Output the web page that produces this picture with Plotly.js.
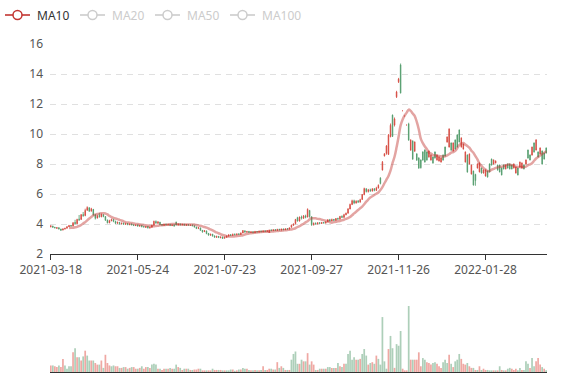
<!DOCTYPE html>
<html>
<head>
<meta charset="utf-8">
<script src="https://cdn.plot.ly/plotly-3.0.1.min.js"></script>
<style>html,body{margin:0;padding:0;background:#fff;}#chart{width:577px;height:380px;}</style>
</head>
<body>
<div id="chart"></div>
<script>
const dates = [
"2021-03-18","2021-03-19","2021-03-22","2021-03-23","2021-03-24","2021-03-25","2021-03-26","2021-03-29","2021-03-30","2021-03-31",
"2021-04-01","2021-04-02","2021-04-06","2021-04-07","2021-04-08","2021-04-09","2021-04-12","2021-04-13","2021-04-14","2021-04-15",
"2021-04-16","2021-04-19","2021-04-20","2021-04-21","2021-04-22","2021-04-23","2021-04-26","2021-04-27","2021-04-28","2021-04-29",
"2021-04-30","2021-05-06","2021-05-07","2021-05-10","2021-05-11","2021-05-12","2021-05-13","2021-05-14","2021-05-17","2021-05-18",
"2021-05-19","2021-05-20","2021-05-21","2021-05-24","2021-05-25","2021-05-26","2021-05-27","2021-05-28","2021-05-31","2021-06-01",
"2021-06-02","2021-06-03","2021-06-04","2021-06-07","2021-06-08","2021-06-09","2021-06-10","2021-06-11","2021-06-15","2021-06-16",
"2021-06-17","2021-06-18","2021-06-21","2021-06-22","2021-06-23","2021-06-24","2021-06-25","2021-06-28","2021-06-29","2021-06-30",
"2021-07-01","2021-07-02","2021-07-05","2021-07-06","2021-07-07","2021-07-08","2021-07-09","2021-07-12","2021-07-13","2021-07-14",
"2021-07-15","2021-07-16","2021-07-19","2021-07-20","2021-07-21","2021-07-22","2021-07-23","2021-07-26","2021-07-27","2021-07-28",
"2021-07-29","2021-07-30","2021-08-02","2021-08-03","2021-08-04","2021-08-05","2021-08-06","2021-08-09","2021-08-10","2021-08-11",
"2021-08-12","2021-08-13","2021-08-16","2021-08-17","2021-08-18","2021-08-19","2021-08-20","2021-08-23","2021-08-24","2021-08-25",
"2021-08-26","2021-08-27","2021-08-30","2021-08-31","2021-09-01","2021-09-02","2021-09-06","2021-09-07","2021-09-08","2021-09-09",
"2021-09-10","2021-09-13","2021-09-14","2021-09-15","2021-09-16","2021-09-17","2021-09-22","2021-09-23","2021-09-24","2021-09-27",
"2021-09-28","2021-09-29","2021-09-30","2021-10-04","2021-10-05","2021-10-06","2021-10-07","2021-10-08","2021-10-11","2021-10-12",
"2021-10-13","2021-10-14","2021-10-15","2021-10-18","2021-10-19","2021-10-20","2021-10-21","2021-10-22","2021-10-25","2021-10-26",
"2021-10-27","2021-10-28","2021-10-29","2021-11-01","2021-11-02","2021-11-03","2021-11-04","2021-11-05","2021-11-08","2021-11-09",
"2021-11-10","2021-11-11","2021-11-12","2021-11-15","2021-11-16","2021-11-17","2021-11-18","2021-11-19","2021-11-22","2021-11-23",
"2021-11-24","2021-11-25","2021-11-26","2021-11-29","2021-11-30","2021-12-01","2021-12-02","2021-12-03","2021-12-06","2021-12-07",
"2021-12-08","2021-12-09","2021-12-10","2021-12-13","2021-12-14","2021-12-15","2021-12-16","2021-12-17","2021-12-20","2021-12-21",
"2021-12-22","2021-12-23","2021-12-27","2021-12-28","2021-12-29","2021-12-30","2021-12-31","2022-01-04","2022-01-05","2022-01-06",
"2022-01-07","2022-01-10","2022-01-11","2022-01-12","2022-01-13","2022-01-14","2022-01-17","2022-01-18","2022-01-19","2022-01-20",
"2022-01-21","2022-01-24","2022-01-25","2022-01-26","2022-01-27","2022-01-28","2022-02-07","2022-02-08","2022-02-09","2022-02-10",
"2022-02-11","2022-02-14","2022-02-15","2022-02-16","2022-02-17","2022-02-18","2022-02-21","2022-02-22","2022-02-23","2022-02-24",
"2022-02-25","2022-02-28","2022-03-01","2022-03-02","2022-03-03","2022-03-04","2022-03-07","2022-03-08","2022-03-09","2022-03-10",
"2022-03-11","2022-03-14","2022-03-15","2022-03-16","2022-03-17","2022-03-18"
];

const closes = [
3.82,3.86,3.78,3.72,3.75,3.66,3.60,3.67,3.72,3.82,
3.90,3.86,4.10,4.02,4.32,4.30,4.62,4.56,4.92,5.08,
4.86,4.98,4.62,4.40,4.58,4.48,4.62,4.50,4.26,4.08,
4.22,4.30,4.18,4.05,4.10,4.02,4.06,3.98,4.04,3.96,
4.00,3.94,3.90,3.94,3.86,3.90,3.82,3.78,3.84,3.74,
3.78,3.92,4.16,4.06,4.12,3.96,3.92,3.98,3.94,3.98,
3.90,3.94,4.12,3.94,4.00,3.94,3.98,3.92,3.96,3.92,
3.94,3.88,3.80,3.72,3.74,3.58,3.50,3.54,3.38,3.26,
3.32,3.20,3.12,3.18,3.10,3.14,3.06,3.12,3.20,3.28,
3.24,3.32,3.28,3.34,3.30,3.40,3.54,3.46,3.50,3.44,
3.48,3.42,3.50,3.46,3.52,3.48,3.54,3.50,3.44,3.60,
3.56,3.62,3.58,3.64,3.60,3.66,3.62,3.68,3.66,3.78,
3.92,4.02,4.42,4.20,4.46,4.38,4.54,4.46,4.90,4.48,
3.95,4.05,4.00,4.08,4.04,4.10,4.06,4.14,4.28,4.20,
4.30,4.24,4.36,4.32,4.50,4.44,4.62,4.72,5.00,5.30,
5.55,5.40,5.52,5.46,5.64,5.96,6.34,6.16,6.28,6.20,
6.34,6.24,6.40,7.06,7.60,8.54,8.70,8.64,9.82,11.26,
10.60,12.48,13.48,14.60,11.55,11.20,10.60,10.67,8.93,9.53,
8.87,8.67,8.40,8.27,8.80,8.93,8.80,8.47,8.27,8.47,
8.80,8.27,8.20,8.13,8.60,9.13,9.47,9.13,9.40,8.87,
9.60,9.93,10.27,9.13,9.00,8.13,8.60,8.00,7.33,7.53,
7.30,7.73,7.47,7.73,7.40,7.20,7.53,8.00,8.33,8.00,
8.07,7.93,7.93,7.73,7.93,7.67,8.00,8.00,7.93,7.73,
7.40,7.73,7.80,7.73,7.93,8.00,8.93,8.60,8.60,9.40,
8.93,8.80,8.67,8.87,8.73,9.07
];

const opens = [
3.88,3.78,3.74,3.76,3.66,3.58,3.68,3.72,3.82,3.90,
3.86,4.08,4.02,4.30,4.28,4.62,4.55,4.90,5.10,4.86,
5.02,4.62,4.38,4.55,4.48,4.64,4.50,4.26,4.08,4.22,
4.30,4.18,4.05,4.12,4.02,4.06,3.98,4.04,3.96,4.00,
3.94,3.90,3.94,3.86,3.90,3.82,3.80,3.84,3.74,3.78,
3.92,4.18,4.06,4.14,3.96,3.92,3.98,3.94,3.98,3.90,
3.94,3.86,3.94,4.00,3.94,3.98,3.92,3.96,3.92,3.94,
3.88,3.80,3.70,3.76,3.58,3.48,3.56,3.36,3.26,3.32,
3.20,3.12,3.18,3.10,3.14,3.04,3.12,3.20,3.28,3.24,
3.32,3.28,3.34,3.30,3.40,3.56,3.46,3.50,3.44,3.48,
3.42,3.50,3.46,3.52,3.48,3.54,3.50,3.56,3.60,3.56,
3.62,3.58,3.64,3.60,3.66,3.62,3.68,3.66,3.74,3.92,
4.00,4.30,4.20,4.46,4.38,4.54,4.44,4.98,4.50,3.95,
4.05,4.00,4.08,4.04,4.10,4.06,4.14,4.28,4.20,4.30,
4.24,4.36,4.32,4.50,4.44,4.62,4.72,5.00,5.30,5.55,
5.40,5.52,5.46,5.62,5.96,6.36,6.16,6.28,6.20,6.34,
6.24,6.40,6.58,6.70,8.12,8.68,9.20,9.92,10.58,9.84,
11.00,12.80,13.66,12.74,11.55,11.20,10.60,9.60,9.60,8.33,
9.47,8.27,7.73,7.75,8.27,8.13,8.27,8.87,8.60,8.07,
8.40,8.60,8.47,8.40,8.27,8.53,9.80,10.33,8.93,9.40,
9.00,9.13,9.47,9.73,9.33,8.80,7.47,8.67,7.93,6.60,
6.90,8.00,8.07,7.40,7.60,7.60,7.13,7.47,7.93,8.27,
8.20,7.60,7.47,7.27,7.67,7.93,7.73,7.67,7.67,8.00,
7.80,7.27,8.13,8.07,7.67,8.27,8.40,8.27,9.13,8.80,
9.60,8.47,9.07,8.00,8.33,8.73
];

const lows = [
3.78,3.74,3.70,3.68,3.64,3.54,3.58,3.64,3.70,3.80,
3.82,3.85,3.98,4.00,4.20,4.28,4.48,4.52,4.88,4.80,
4.82,4.55,4.30,4.36,4.42,4.45,4.45,4.20,4.04,4.05,
4.18,4.12,3.98,4.02,3.96,3.98,3.94,3.95,3.92,3.92,
3.90,3.86,3.86,3.82,3.82,3.78,3.76,3.74,3.70,3.70,
3.76,3.90,4.02,4.00,3.92,3.88,3.88,3.90,3.90,3.86,
3.86,3.82,3.90,3.90,3.90,3.92,3.88,3.88,3.88,3.88,
3.84,3.76,3.66,3.66,3.54,3.42,3.46,3.32,3.22,3.22,
3.16,3.08,3.08,3.06,3.04,3.00,3.02,3.08,3.16,3.20,
3.22,3.24,3.26,3.26,3.28,3.38,3.42,3.42,3.40,3.40,
3.38,3.40,3.42,3.44,3.44,3.46,3.46,3.48,3.40,3.52,
3.54,3.54,3.56,3.56,3.58,3.58,3.60,3.62,3.64,3.76,
3.88,3.98,4.16,4.16,4.30,4.34,4.38,4.44,4.42,3.88,
3.90,3.96,3.98,4.00,4.02,4.02,4.04,4.12,4.16,4.18,
4.20,4.22,4.28,4.30,4.40,4.42,4.58,4.70,4.98,5.26,
5.32,5.36,5.40,5.42,5.60,5.92,6.10,6.10,6.14,6.16,
6.18,6.20,6.36,6.64,7.56,8.50,8.62,8.60,9.78,9.80,
10.50,12.40,13.40,12.70,11.55,11.20,10.60,9.55,8.88,8.28,
8.80,8.20,7.68,7.70,8.22,8.10,8.22,8.42,8.22,8.02,
8.36,8.22,8.16,8.10,8.22,8.50,9.42,9.10,8.88,8.84,
8.96,9.10,9.44,9.10,8.96,8.10,7.42,7.96,7.30,6.56,
6.55,7.70,7.44,7.36,7.36,7.16,7.10,7.44,7.90,7.96,
8.04,7.56,7.44,7.24,7.64,7.64,7.70,7.64,7.64,7.70,
7.36,7.24,7.76,7.70,7.64,7.96,8.36,8.24,8.56,8.76,
8.90,8.44,8.64,7.96,8.30,8.70
];

const highs = [
3.92,3.88,3.80,3.79,3.77,3.68,3.70,3.75,3.85,3.94,
3.93,4.12,4.28,4.35,4.60,4.66,4.80,5.02,5.18,5.12,
5.08,5.00,4.66,4.62,4.74,4.70,4.66,4.52,4.30,4.28,
4.36,4.34,4.22,4.16,4.14,4.10,4.08,4.08,4.06,4.04,
4.02,3.98,3.97,3.96,3.93,3.92,3.86,3.86,3.86,3.82,
3.96,4.22,4.24,4.20,4.14,4.00,4.02,4.02,4.02,4.00,
3.98,3.96,4.16,4.04,4.02,4.02,4.00,3.98,3.98,3.96,
3.96,3.90,3.82,3.78,3.76,3.60,3.60,3.56,3.40,3.36,
3.34,3.24,3.22,3.20,3.18,3.16,3.16,3.24,3.32,3.32,
3.36,3.36,3.38,3.38,3.44,3.60,3.58,3.54,3.54,3.52,
3.50,3.54,3.52,3.56,3.56,3.58,3.58,3.60,3.62,3.64,
3.66,3.66,3.68,3.68,3.70,3.70,3.72,3.72,3.78,3.96,
4.04,4.34,4.48,4.50,4.56,4.60,4.62,5.04,4.94,4.52,
4.10,4.10,4.12,4.12,4.14,4.14,4.18,4.32,4.34,4.36,
4.34,4.40,4.42,4.54,4.58,4.68,4.76,5.06,5.36,5.62,
5.62,5.58,5.60,5.68,6.00,6.42,6.40,6.34,6.36,6.40,
6.40,6.48,6.64,7.12,8.20,8.72,9.26,10.00,10.70,11.30,
11.10,12.88,13.74,14.70,11.55,11.20,10.60,10.75,9.65,9.58,
9.50,8.72,8.45,8.30,8.85,8.98,8.84,8.90,8.64,8.50,
8.84,8.64,8.50,8.44,8.64,9.16,9.84,10.38,9.44,9.44,
9.64,9.98,10.30,9.78,9.36,8.84,8.64,8.70,7.96,7.56,
7.35,8.04,8.10,7.76,7.64,7.64,7.56,8.04,8.36,8.30,
8.24,7.96,7.96,7.76,7.96,7.96,8.04,8.04,7.96,8.04,
7.84,7.76,8.16,8.10,7.96,8.30,8.96,8.64,9.16,9.44,
9.66,8.84,9.10,8.90,8.76,9.10
];

const volumes = [
8,8,7,6,8,6,16,8,4,7,
7,24,29,18,18,14,19,26,20,14,
14,14,11,9,9,14,5,21,11,8,
7,8,7,7,5,5,6,6,4,5,
6,6,4,4,5,7,4,6,6,5,
9,10,9,4,4,2.5,4,4,4,5,
4,4,9,6,5,2.5,4,4,4,2.5,
2.5,3,3,4,4,2,2,2,2,2,
4,2.5,2.5,2.5,2.5,2,2,2,2,3,
3,1.5,2,3,3,5,4,4,2.5,2,
2,2.5,2,2,2.5,7,2.5,2.5,4,4,
3,3,12,5,7,5,2.5,2.5,2.5,15,
22,25,10,10,15,13,13,23,9,13,
9,2.5,2.5,4,4,4,4,6,6,5,
5,5,11,7,6,10,10,22,26,15,
18,15,15,16,22,28,20,9,11,12,
10,20,16,9,67,13,4,28,44,29,
5,34,32,50,4,2,2,80.5,15,15,
15,15,24,7,17,15,12,11,9,11,
12,10,7,5,12,15,11,21,10,6,
13,15,22,16,10,9,11,7,5,5,
2.5,2.5,7,2.5,4,2.5,2.5,2,2,2,
2,2,7,2.5,2,2,4,5,4,2.5,
4,2,5,2.5,2.5,13,10,5,17,7,
13,17,9,6,4,2
];

const tickDates = ["2021-03-18","2021-05-24","2021-07-23","2021-09-27","2021-11-26","2022-01-28"];
const yTicks = [2,4,6,8,10,12,14,16];
const legendNames = ["MA10","MA20","MA50","MA100"];

// rising = green, falling = red
const UP = '#4f9a69', DOWN = '#d6483e';
const UP_V = 'rgba(92,160,116,0.5)', DOWN_V = 'rgba(226,96,88,0.55)';
const MA_COLOR = '#c23531';

function calcMA(n, arr) {
  const out = [];
  for (let i = 0; i < arr.length; i++) {
    if (i < n - 1) { out.push(null); continue; }
    let s = 0;
    for (let j = 0; j < n; j++) s += arr[i - j];
    out.push(+(s / n).toFixed(3));
  }
  return out;
}
const ma10 = calcMA(10, closes);
const volColors = closes.map((c, i) => c >= (i > 0 ? closes[i - 1] : opens[0]) ? UP_V : DOWN_V);

const W = 577, H = 380;
const px = v => v / W, py = v => 1 - v / H;

const traces = [
  {
    type: 'candlestick', x: dates, open: opens, high: highs, low: lows, close: closes,
    xaxis: 'x', yaxis: 'y',
    increasing: {line: {color: UP, width: 0.8}, fillcolor: UP},
    decreasing: {line: {color: DOWN, width: 0.8}, fillcolor: DOWN},
    whiskerwidth: 0, hoverinfo: 'skip', showlegend: false
  },
  {
    type: 'scatter', mode: 'lines', x: dates, y: ma10, xaxis: 'x', yaxis: 'y',
    line: {color: MA_COLOR, width: 2.5, shape: 'spline', smoothing: 1},
    opacity: 0.45, hoverinfo: 'skip', showlegend: false
  },
  {
    type: 'bar', x: dates, y: volumes, xaxis: 'x2', yaxis: 'y2',
    marker: {color: volColors, line: {width: 0}}, hoverinfo: 'skip', showlegend: false
  }
];

const shapes = [], annotations = [];
const legendX = [5, 80, 155, 230];
legendNames.forEach((name, k) => {
  const x0 = legendX[k];
  const active = k === 0;
  const col = active ? MA_COLOR : '#cccccc';
  shapes.push({type: 'line', xref: 'paper', yref: 'paper', x0: px(x0), x1: px(x0 + 25), y0: py(15), y1: py(15), line: {color: col, width: 1.6}});
  shapes.push({type: 'circle', xref: 'paper', yref: 'paper', x0: px(x0 + 8), x1: px(x0 + 17), y0: py(19.5), y1: py(10.5), fillcolor: '#ffffff', line: {color: col, width: 1.5}});
  annotations.push({xref: 'paper', yref: 'paper', x: px(x0 + 30), y: py(15), xanchor: 'left', yanchor: 'middle', showarrow: false, text: name, font: {size: 12, color: active ? '#333333' : '#cccccc'}});
});

const xDomain = [px(50), px(547)];
const layout = {
  width: W, height: H,
  margin: {l: 0, r: 0, t: 0, b: 0},
  paper_bgcolor: '#ffffff', plot_bgcolor: '#ffffff',
  showlegend: false,
  font: {family: '"Noto Sans", sans-serif', size: 12, color: '#555555'},
  bargap: 0.15,
  boxgap: 0.6,
  xaxis: {
    type: 'category', domain: xDomain, anchor: 'y', range: [-0.4, dates.length - 0.6],
    rangeslider: {visible: false}, tickmode: 'array', tickvals: tickDates, ticktext: tickDates,
    ticks: 'outside', ticklen: 5, tickcolor: '#333333', tickwidth: 1,
    showline: true, linecolor: '#333333', linewidth: 1, showgrid: false, zeroline: false,
    tickfont: {size: 12, color: '#555555'}, fixedrange: true
  },
  yaxis: {
    domain: [py(254), py(44)], anchor: 'x', range: [2, 16],
    tickmode: 'array', tickvals: yTicks, ticktext: yTicks.map(String),
    showgrid: true, gridcolor: '#e0e0e0', griddash: '6px,5px', gridwidth: 1,
    zeroline: false, showline: false, ticks: '', ticklabelstandoff: 6,
    tickfont: {size: 12, color: '#555555'}, fixedrange: true
  },
  xaxis2: {
    type: 'category', domain: xDomain, anchor: 'y2', range: [-0.4, dates.length - 0.6],
    showticklabels: false, ticks: '', showline: true, linecolor: '#333333', linewidth: 1,
    showgrid: false, zeroline: false, fixedrange: true
  },
  yaxis2: {
    domain: [py(372), py(290)], anchor: 'x2', range: [0, 100],
    showticklabels: false, showgrid: false, zeroline: false, showline: false, ticks: '', fixedrange: true
  },
  shapes: shapes,
  annotations: annotations
};

Plotly.newPlot('chart', traces, layout, {displayModeBar: false, staticPlot: true});
</script>
</body>
</html>
